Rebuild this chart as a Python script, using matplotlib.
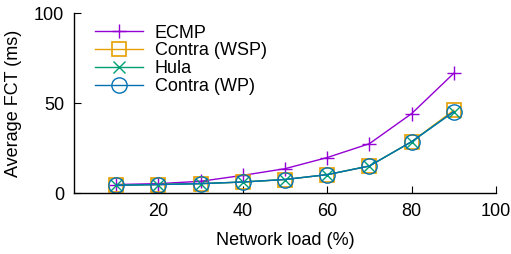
import matplotlib
matplotlib.use("Agg")
import matplotlib.pyplot as plt

plt.rcParams['font.family'] = ['Liberation Sans', 'DejaVu Sans']

load = [10, 20, 30, 40, 50, 60, 70, 80, 90]
ecmp = [4.7, 5.2, 6.5, 9.8, 13.5, 19.7, 27.4, 44.1, 66.5]
contra_wsp = [4.3, 4.7, 5.2, 6.1, 7.5, 10.2, 15.0, 28.5, 46.0]
hula = [4.3, 4.7, 5.2, 6.1, 7.5, 10.2, 15.0, 28.5, 45.2]
contra_wp = [4.3, 4.7, 5.2, 6.1, 7.5, 10.2, 15.0, 28.5, 45.2]

fig = plt.figure(figsize=(5.11, 2.54), dpi=100)
ax = fig.add_axes([74/511, 1-193/254, (496-74)/511, (193-13)/254])

ax.plot(load, ecmp, color='#9400D3', marker='+', markersize=10.5, markeredgewidth=1.0, lw=1.0, label='ECMP')
ax.plot(load, contra_wsp, color='#E69F00', marker='s', markersize=10.5, markerfacecolor='none', markeredgewidth=1.2, lw=1.0, label='Contra (WSP)')
ax.plot(load, hula, color='#009E73', marker='x', markersize=8.5, markeredgewidth=1.0, lw=1.0, label='Hula')
ax.plot(load, contra_wp, color='#0072B2', marker='o', markersize=11, markerfacecolor='none', markeredgewidth=1.0, lw=1.0, label='Contra (WP)')

ax.set_xlim(0, 100)
ax.set_ylim(0, 100)
ax.set_xticks([20, 40, 60, 80, 100])
ax.set_yticks([0, 50, 100])
ax.spines['top'].set_visible(False)
ax.spines['right'].set_visible(False)
for s in ax.spines.values():
    s.set_linewidth(1.0)
ax.tick_params(direction='in', length=5, labelsize=13, pad=7)
ax.set_xlabel('Network load (%)', fontsize=13, labelpad=9)
ax.set_ylabel('Average FCT (ms)', fontsize=13, labelpad=9)

leg = ax.legend(loc='upper left', bbox_to_anchor=(0.042, 0.956), frameon=False, fontsize=13,
                handlelength=2.65, handletextpad=0.65, labelspacing=0.05, borderpad=0.2,
                borderaxespad=0.0)

fig.savefig('out.png', dpi=100)
